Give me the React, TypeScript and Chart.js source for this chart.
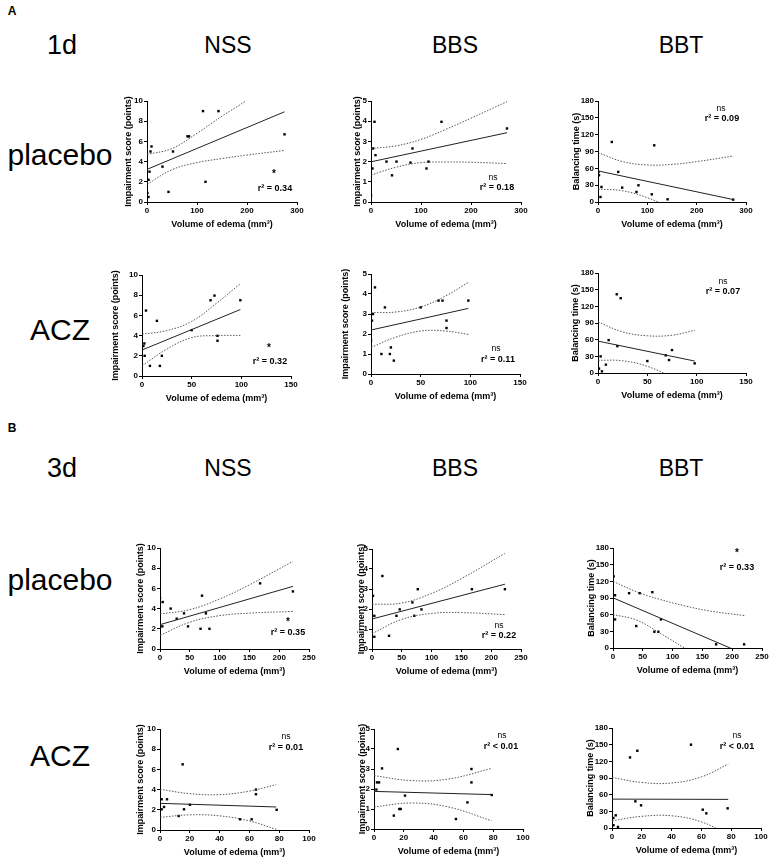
import React, { useEffect, useRef } from "react";
import { Chart, registerables } from "chart.js";
Chart.register(...registerables);

type P = [number, number];

// ---------------- Day 1 – placebo ----------------
const d1PlaNssPts: P[] = [[1, 0.9], [3, 0.5], [3, 2.2], [5, 3.0], [7, 5.0], [9, 5.5], [31, 3.5], [43, 1.0], [52, 5.0], [81, 6.5], [84, 6.5], [112, 9.0], [117, 2.0], [143, 9.0], [275, 6.7]];
const d1PlaNssFit: P[] = [[0, 3.23], [275, 8.93]];
const d1PlaNssUp: P[] = [[0, 4.7], [50, 5.3], [100, 6.8], [150, 8.5], [200, 10.1], [275, 13]];
const d1PlaNssLo: P[] = [[0, 1.75], [50, 3.2], [100, 3.9], [150, 4.3], [200, 4.65], [275, 5.1]];

const d1PlaBbsPts: P[] = [[0, 0.33], [3, 1.66], [4, 2.65], [7, 3.97], [9, 2.32], [31, 2.0], [42, 1.32], [51, 2.0], [79, 1.95], [83, 2.65], [111, 1.66], [115, 2.0], [141, 3.97], [272, 3.64]];
const d1PlaBbsFit: P[] = [[0, 1.99], [272, 3.43]];
const d1PlaBbsUp: P[] = [[0, 2.65], [50, 2.78], [100, 3.1], [150, 3.6], [200, 4.15], [272, 4.97]];
const d1PlaBbsLo: P[] = [[0, 1.33], [50, 1.72], [100, 1.95], [150, 1.98], [200, 1.97], [272, 1.9]];

const d1PlaBbtPts: P[] = [[1, 53.6], [2, 47.7], [5, 8.9], [7, 26.8], [28, 107], [41, 53.6], [49, 25.6], [78, 17.9], [82, 29.8], [109, 13.7], [114, 101], [141, 4.8], [274, 4.2]];
const d1PlaBbtFit: P[] = [[0, 55.4], [275, 4.2]];
const d1PlaBbtUp: P[] = [[0, 88], [50, 72], [100, 66], [150, 67], [200, 72], [275, 82]];
const d1PlaBbtLo: P[] = [[0, 23], [50, 20], [100, 7.6], [150, -12], [200, -36], [275, -74]];

// ---------------- Day 1 – ACZ ----------------
const d1AczNssPts: P[] = [[1.4, 2.96], [2.4, 3.22], [2.7, 2.0], [4, 6.48], [8, 1.0], [15, 5.46], [18, 1.0], [20, 2.0], [50, 4.54], [69, 7.5], [73, 7.96], [76, 3.98], [76, 3.49], [99, 7.5]];
const d1AczNssFit: P[] = [[0, 2.57], [99, 6.58]];
const d1AczNssUp: P[] = [[0, 4.14], [25, 4.5], [50, 5.4], [75, 7.2], [99, 9.14]];
const d1AczNssLo: P[] = [[0, 1.0], [25, 2.66], [50, 3.8], [75, 4.0], [99, 4.02]];

const d1AczBbsPts: P[] = [[0, 1.67], [1, 2.67], [2, 3.0], [4, 4.33], [10.5, 1.0], [14, 3.33], [19, 1.0], [20, 1.33], [23, 0.67], [50, 3.33], [68, 3.67], [72, 3.67], [76, 2.67], [76, 2.3], [98, 3.67]];
const d1AczBbsFit: P[] = [[0, 2.2], [98, 3.28]];
const d1AczBbsUp: P[] = [[0, 3.07], [25, 3.1], [50, 3.35], [75, 3.9], [98, 4.58]];
const d1AczBbsLo: P[] = [[0, 1.33], [25, 1.84], [50, 2.15], [75, 2.15], [98, 1.98]];

const d1AczBbtPts: P[] = [[1, 8], [2.7, 29.9], [4, 3], [8, 15], [10.8, 59.2], [19, 141.7], [19.6, 48.4], [23, 134.6], [50, 21.5], [68.6, 31.7], [72, 23.3], [75, 41.3], [98, 17.3]];
const d1AczBbtFit: P[] = [[0, 57.4], [98, 21.5]];
const d1AczBbtUp: P[] = [[0, 92], [25, 74], [50, 67], [75, 68], [98, 77]];
const d1AczBbtLo: P[] = [[0, 23], [25, 22], [50, 12], [75, -8], [98, -34]];

// ---------------- Day 3 – placebo ----------------
const d3PlaNssPts: P[] = [[0, 5.05], [3.9, 2.24], [4.5, 4.65], [17.9, 4.0], [28, 3.0], [40.3, 3.53], [47, 2.24], [68, 2.0], [70.5, 5.28], [77, 3.53], [83, 2.0], [168, 6.5], [223, 5.7]];
const d3PlaNssFit: P[] = [[0, 2.41], [223, 6.2]];
const d3PlaNssUp: P[] = [[0, 3.47], [50, 3.9], [100, 4.95], [150, 6.35], [223, 8.68]];
const d3PlaNssLo: P[] = [[0, 1.35], [50, 2.65], [100, 3.3], [150, 3.55], [223, 3.72]];

const d3PlaBbsPts: P[] = [[1.7, 2.66], [3.9, 1.66], [3.9, 0.61], [17.4, 3.65], [28.6, 0.66], [41, 1.66], [46.5, 1.98], [67.8, 2.33], [71, 1.66], [76.8, 2.99], [83, 1.98], [167.6, 2.99], [223, 2.99]];
const d3PlaBbsFit: P[] = [[0, 1.5], [223, 3.24]];
const d3PlaBbsUp: P[] = [[0, 2.23], [50, 2.3], [100, 2.78], [150, 3.52], [223, 4.78]];
const d3PlaBbsLo: P[] = [[0, 0.77], [50, 1.48], [100, 1.78], [150, 1.82], [223, 1.72]];

const d3PlaBbtPts: P[] = [[1.1, 129], [3.4, 95], [3.4, 51.4], [27, 98.7], [39, 39.5], [44.7, 98.7], [66, 100.5], [69.4, 29.3], [76, 29.3], [80.5, 51.4], [173, 6.6], [220, 6.6]];
const d3PlaBbtFit: P[] = [[0, 90.3], [223, -12.1]];
const d3PlaBbtUp: P[] = [[0, 120], [40, 101], [80, 87], [120, 76], [160, 67], [223, 58]];
const d3PlaBbtLo: P[] = [[0, 60.4], [40, 50], [80, 26], [120, 0], [160, -25], [223, -60]];

// ---------------- Day 3 – ACZ ----------------
const d3AczNssPts: P[] = [[1.1, 3.04], [4.7, 3.04], [2.7, 2.28], [1.1, 2.05], [15.2, 6.5], [16.1, 2.05], [20.1, 2.5], [12.5, 1.39], [53.7, 1.06], [61.5, 1.06], [64.4, 4.0], [64.4, 3.54], [78.3, 2.0]];
const d3AczNssFit: P[] = [[0, 2.64], [78, 2.28]];
const d3AczNssUp: P[] = [[0, 4.03], [20, 3.6], [40, 3.5], [60, 3.85], [78, 4.5]];
const d3AczNssLo: P[] = [[0, 1.25], [20, 1.5], [40, 1.4], [60, 0.9], [78, 0.06]];

const d3AczBbsPts: P[] = [[2, 2.33], [3.4, 2.33], [1.6, 1.97], [5.4, 3.03], [16, 4.0], [20.8, 1.67], [17, 1.0], [17.9, 1.0], [13.3, 0.67], [55, 0.5], [62.7, 1.33], [65.4, 3.0], [65.4, 2.33], [79, 1.7]];
const d3AczBbsFit: P[] = [[0, 1.88], [79, 1.72]];
const d3AczBbsUp: P[] = [[0, 2.67], [25, 2.42], [50, 2.5], [79, 3.03]];
const d3AczBbsLo: P[] = [[0, 1.1], [25, 1.3], [50, 1.1], [79, 0.41]];

const d3AczBbtPts: P[] = [[0.9, 18], [2.5, 22.8], [1, 5], [4, 2], [12.1, 127], [15.7, 48], [17, 139], [19.5, 40.8], [53, 150], [60.9, 33], [63.3, 26.4], [77.6, 35.4]];
const d3AczBbtFit: P[] = [[0, 52], [78, 51.5]];
const d3AczBbtUp: P[] = [[0, 91], [20, 82], [40, 81], [60, 92], [78, 115]];
const d3AczBbtLo: P[] = [[0, 13], [20, 21], [40, 22], [60, 11], [78, -12]];

// ---------------- axis settings ----------------
const scoreTitle = "Impairment score (points)";
const timeTitle = "Balancing time (s)";
const xTitle = "Volume of edema (mm³)";
const nssY = { max: 10, step: 2, title: scoreTitle };
const bbsY = { max: 5, step: 1, title: scoreTitle };
const bbtY = { max: 180, step: 30, title: timeTitle };
const d1PlaX = { max: 300, step: 100 };
const d1AczX = { max: 150, step: 50 };
const d3PlaX = { max: 250, step: 50 };
const d3AczX = { max: 100, step: 20 };

const FONT = "'Liberation Sans', Arial, Helvetica, sans-serif";
const YW = 45, PT = 10, PR = 14, XH = 40;

type PanelDef = {
  pts: P[]; fit: P[]; up: P[]; lo: P[];
  xa: { max: number; step: number }; ya: { max: number; step: number; title: string };
  L: number; R: number; T: number; B: number; g: number;
  sig: string; r2: string; sx: number; sy: number; rx: number; ry: number;
};

const panels: PanelDef[] = [
  { pts: d1PlaNssPts, fit: d1PlaNssFit, up: d1PlaNssUp, lo: d1PlaNssLo, xa: d1PlaX, ya: nssY, L: 147, R: 297, T: 101, B: 202, g: 18.7, sig: "*", r2: "r² = 0.34", sx: 274, sy: 174, rx: 275, ry: 188 },
  { pts: d1PlaBbsPts, fit: d1PlaBbsFit, up: d1PlaBbsUp, lo: d1PlaBbsLo, xa: d1PlaX, ya: bbsY, L: 371, R: 521, T: 101, B: 202, g: 13, sig: "ns", r2: "r² = 0.18", sx: 493, sy: 177, rx: 497, ry: 187 },
  { pts: d1PlaBbtPts, fit: d1PlaBbtFit, up: d1PlaBbtUp, lo: d1PlaBbtLo, xa: d1PlaX, ya: bbtY, L: 598, R: 746, T: 101, B: 202, g: 21.5, sig: "ns", r2: "r² = 0.09", sx: 721, sy: 108, rx: 722, ry: 118 },
  { pts: d1AczNssPts, fit: d1AczNssFit, up: d1AczNssUp, lo: d1AczNssLo, xa: d1AczX, ya: nssY, L: 142, R: 291, T: 274.7, B: 376, g: 26.5, sig: "*", r2: "r² = 0.32", sx: 269, sy: 348, rx: 270, ry: 361 },
  { pts: d1AczBbsPts, fit: d1AczBbsFit, up: d1AczBbsUp, lo: d1AczBbsLo, xa: d1AczX, ya: bbsY, L: 371, R: 520, T: 273.7, B: 373.3, g: 25, sig: "ns", r2: "r² = 0.11", sx: 496, sy: 348, rx: 498, ry: 359 },
  { pts: d1AczBbtPts, fit: d1AczBbtFit, up: d1AczBbtUp, lo: d1AczBbtLo, xa: d1AczX, ya: bbtY, L: 598, R: 746, T: 273.3, B: 373.7, g: 22, sig: "ns", r2: "r² = 0.07", sx: 723, sy: 281, rx: 723, ry: 291 },
  { pts: d3PlaNssPts, fit: d3PlaNssFit, up: d3PlaNssUp, lo: d3PlaNssLo, xa: d3PlaX, ya: nssY, L: 160, R: 309, T: 548.3, B: 649.3, g: 19.2, sig: "*", r2: "r² = 0.35", sx: 288, sy: 622, rx: 288, ry: 632 },
  { pts: d3PlaBbsPts, fit: d3PlaBbsFit, up: d3PlaBbsUp, lo: d3PlaBbsLo, xa: d3PlaX, ya: bbsY, L: 372.3, R: 521.3, T: 548.7, B: 649, g: 10.5, sig: "ns", r2: "r² = 0.22", sx: 499, sy: 625, rx: 499, ry: 635 },
  { pts: d3PlaBbtPts, fit: d3PlaBbtFit, up: d3PlaBbtUp, lo: d3PlaBbtLo, xa: d3PlaX, ya: bbtY, L: 612.7, R: 761.7, T: 548.3, B: 648.7, g: 21.9, sig: "*", r2: "r² = 0.33", sx: 737, sy: 553, rx: 737, ry: 567 },
  { pts: d3AczNssPts, fit: d3AczNssFit, up: d3AczNssUp, lo: d3AczNssLo, xa: d3AczX, ya: nssY, L: 160, R: 309, T: 728.7, B: 829.7, g: 19.2, sig: "ns", r2: "r² = 0.01", sx: 286, sy: 736, rx: 286, ry: 747 },
  { pts: d3AczBbsPts, fit: d3AczBbsFit, up: d3AczBbsUp, lo: d3AczBbsLo, xa: d3AczX, ya: bbsY, L: 373.7, R: 522.7, T: 728.7, B: 828.3, g: 11.2, sig: "ns", r2: "r² < 0.01", sx: 502, sy: 735, rx: 501, ry: 746 },
  { pts: d3AczBbtPts, fit: d3AczBbtFit, up: d3AczBbtUp, lo: d3AczBbtLo, xa: d3AczX, ya: bbtY, L: 612.3, R: 761.3, T: 728.3, B: 828.3, g: 21.5, sig: "ns", r2: "r² < 0.01", sx: 737, sy: 735, rx: 737, ry: 746 },
];

const toXY = (a: P[]) => a.map(([x, y]) => ({ x, y }));

function Panel({ p }: { p: PanelDef }) {
  const ref = useRef<HTMLCanvasElement>(null);
  const w = Math.round(p.R - p.L + YW + PR);
  const h = Math.round(p.B - p.T + PT + XH);
  const left = p.L - YW;
  const top = p.T - PT;
  useEffect(() => {
    const tickFont = { family: FONT, size: 8, weight: "bold" as const };
    const titleFont = { family: FONT, size: 9, weight: "bold" as const };
    const titleLH = 9 * 1.2;
    const yTitlePad = Math.max(0, YW - p.g - titleLH / 2);
    const xTitleGap = 23;
    const xTitlePadB = Math.max(0, XH - titleLH / 2 - xTitleGap);
    const band = (d: P[]) => ({
      type: "line" as const,
      data: toXY(d),
      borderColor: "#444",
      borderWidth: 0.9,
      borderDash: [1.5, 1.5],
      pointRadius: 0,
      tension: 0.4,
      fill: false,
    });
    const chart = new Chart(ref.current!, {
      type: "scatter",
      data: {
        datasets: [
          band(p.up) as any,
          band(p.lo) as any,
          {
            type: "line",
            data: toXY(p.fit),
            borderColor: "#222",
            borderWidth: 1,
            pointRadius: 0,
            fill: false,
          } as any,
          {
            type: "scatter",
            data: toXY(p.pts),
            pointStyle: "rect",
            pointRadius: 1.7,
            backgroundColor: "#000",
            borderWidth: 0,
          },
        ],
      },
      options: {
        responsive: false,
        animation: false,
        devicePixelRatio: 1,
        events: [],
        layout: { padding: { left: 0, top: PT, right: PR, bottom: 0 } },
        plugins: { legend: { display: false }, tooltip: { enabled: false } },
        scales: {
          x: {
            type: "linear",
            min: 0,
            max: p.xa.max,
            afterFit: (s: any) => { s.height = XH; },
            ticks: { stepSize: p.xa.step, font: tickFont, color: "#000", padding: 1, maxRotation: 0 },
            grid: { drawOnChartArea: false, drawTicks: true, tickLength: 3, color: "#000", lineWidth: 1 },
            border: { display: true, color: "#000", width: 1 },
            title: { display: true, text: xTitle, font: titleFont, color: "#000", padding: { top: 0, bottom: xTitlePadB } },
          },
          y: {
            type: "linear",
            min: 0,
            max: p.ya.max,
            afterFit: (s: any) => { s.width = YW; },
            ticks: { stepSize: p.ya.step, font: tickFont, color: "#000", padding: 1 },
            grid: { drawOnChartArea: false, drawTicks: true, tickLength: 3, color: "#000", lineWidth: 1 },
            border: { display: true, color: "#000", width: 1 },
            title: { display: true, text: p.ya.title, font: titleFont, color: "#000", padding: { top: yTitlePad, bottom: 0 } },
          },
        },
      },
    });
    return () => chart.destroy();
  }, []);
  return (
    <canvas
      ref={ref}
      width={w}
      height={h}
      style={{ position: "absolute", left, top, width: w, height: h }}
    />
  );
}

const bigLabels: { t: string; x: number; y: number; s: number }[] = [
  { t: "1d", x: 62, y: 45, s: 27 },
  { t: "NSS", x: 228, y: 45, s: 23 },
  { t: "BBS", x: 455, y: 45, s: 23 },
  { t: "BBT", x: 681, y: 45, s: 23 },
  { t: "placebo", x: 60, y: 155, s: 30 },
  { t: "ACZ", x: 60, y: 330, s: 30 },
  { t: "3d", x: 62, y: 468, s: 27 },
  { t: "NSS", x: 228, y: 468, s: 23 },
  { t: "BBS", x: 455, y: 468, s: 23 },
  { t: "BBT", x: 681, y: 468, s: 23 },
  { t: "placebo", x: 60, y: 580, s: 30 },
  { t: "ACZ", x: 60, y: 756, s: 30 },
];

function Txt({ x, y, children, style }: any) {
  return (
    <div
      style={{
        position: "absolute",
        left: x,
        top: y,
        transform: "translate(-50%, -50%)",
        whiteSpace: "nowrap",
        fontFamily: FONT,
        color: "#000",
        lineHeight: 1,
        ...style,
      }}
    >
      {children}
    </div>
  );
}

export default function App() {
  return (
    <div style={{ position: "absolute", left: 0, top: 0, width: 770, height: 858, background: "#fff", overflow: "hidden" }}>
      <Txt x={12} y={11} style={{ fontSize: 12, fontWeight: "bold" }}>A</Txt>
      <Txt x={12} y={428} style={{ fontSize: 12, fontWeight: "bold" }}>B</Txt>
      {bigLabels.map((b, i) => (
        <Txt key={"b" + i} x={b.x} y={b.y} style={{ fontSize: b.s }}>{b.t}</Txt>
      ))}
      {panels.map((p, i) => (
        <Panel key={"p" + i} p={p} />
      ))}
      {panels.map((p, i) => (
        <React.Fragment key={"a" + i}>
          <Txt x={p.sx} y={p.sy} style={{ fontSize: p.sig === "*" ? 10 : 8.5, fontWeight: p.sig === "*" ? "bold" : "normal" }}>{p.sig}</Txt>
          <Txt x={p.rx} y={p.ry} style={{ fontSize: 9, fontWeight: "bold" }}>{p.r2}</Txt>
        </React.Fragment>
      ))}
    </div>
  );
}
